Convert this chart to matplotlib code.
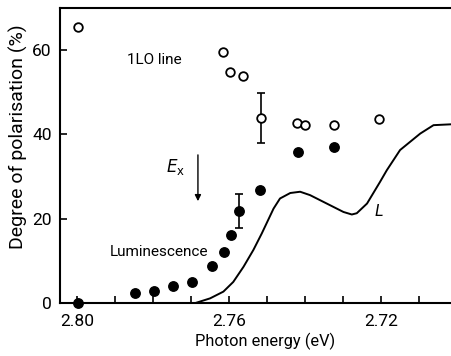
import matplotlib
matplotlib.use("Agg")
import matplotlib.pyplot as plt

plt.rcParams['font.family'] = ['Roboto', 'DejaVu Sans']

# 1LO line (open circles)
lo_x = [2.7997, 2.7616, 2.7597, 2.7563, 2.7516, 2.7421, 2.7400, 2.7324, 2.7205]
lo_y = [65.4, 59.5, 54.7, 53.8, 43.8, 42.7, 42.2, 42.2, 43.6]
lo_err_x = [2.7516]
lo_err_y = [43.8]
lo_err = [[5.9], [6.0]]

# Luminescence (filled circles)
lum_x = [2.7997, 2.7847, 2.7797, 2.7747, 2.7697, 2.7645, 2.7613, 2.7595, 2.7574, 2.7518, 2.7418, 2.7324]
lum_y = [0.0, 2.4, 2.8, 4.0, 5.0, 8.8, 12.1, 16.1, 21.8, 26.8, 35.8, 37.0]
lum_err_x = [2.7574]
lum_err_y = [21.8]
lum_err = [[4.0], [4.0]]

# Curve L
L_x = [2.7685, 2.7650, 2.7615, 2.7589, 2.7562, 2.7536, 2.7514, 2.7483, 2.7466, 2.7439,
       2.7413, 2.7387, 2.7343, 2.7299, 2.7277, 2.7264, 2.7237, 2.7203, 2.7185, 2.7150,
       2.7097, 2.7062, 2.7016]
L_y = [0.1, 1.1, 2.7, 5.0, 8.6, 12.6, 16.5, 22.4, 24.8, 26.1,
       26.4, 25.6, 23.6, 21.6, 21.0, 21.3, 23.6, 28.7, 31.5, 36.3,
       40.2, 42.2, 42.4]

x_ticks = [2.80, 2.76, 2.72]
x_ticklabels = ["2.80", "2.76", "2.72"]
x_minor = [2.79, 2.78, 2.77, 2.75, 2.74, 2.73, 2.71]
y_ticks = [0, 20, 40, 60]

fig = plt.figure(figsize=(4.51, 3.56), dpi=100)
ax = fig.add_axes([60/451, 53/356, 391/451, 295/356])

ax.plot(L_x, L_y, color='black', lw=1.4, zorder=2)
ax.plot(lo_x, lo_y, 'o', mfc='white', mec='black', mew=1.3, ms=6.2, zorder=3)
ax.errorbar(lo_err_x, lo_err_y, yerr=lo_err, fmt='none', ecolor='black', elinewidth=1.2, capsize=3, capthick=1.2, zorder=2)
ax.plot(lum_x, lum_y, 'o', color='black', ms=6.8, zorder=3, clip_on=False)
ax.errorbar(lum_err_x, lum_err_y, yerr=lum_err, fmt='none', ecolor='black', elinewidth=1.2, capsize=3, capthick=1.2, zorder=2)

# E_x arrow
ax.annotate('', xy=(2.7682, 23.5), xytext=(2.7682, 35.8),
            arrowprops=dict(arrowstyle='-|>', color='black', lw=1.0, mutation_scale=9))
ax.text(2.7742, 32.2, r'$E_\mathrm{x}$', fontsize=12, ha='center', va='center')

ax.text(2.7868, 57.6, '1LO line', fontsize=11, ha='left', va='center')
ax.text(2.7913, 12.1, 'Luminescence', fontsize=11, ha='left', va='center')
ax.text(2.7216, 21.6, 'L', fontsize=12, ha='left', va='center', style='italic')

ax.set_xticks(x_ticks)
ax.set_xticklabels(x_ticklabels)
ax.set_xticks(x_minor, minor=True)
ax.set_yticks(y_ticks)
ax.set_xlim(2.8045, 2.7016)
ax.set_ylim(0, 70)
ax.tick_params(direction='in', length=5, width=1.2, labelsize=12.5, pad=6)
ax.tick_params(which='minor', direction='in', length=5, width=1.2)
ax.tick_params(axis='x', pad=8)

for s in ['left', 'bottom', 'top']:
    ax.spines[s].set_linewidth(1.5)
ax.spines['right'].set_visible(False)

ax.set_xlabel('Photon energy (eV)', fontsize=11.8)
ax.xaxis.set_label_coords(0.524, -0.1)
ax.set_ylabel('Degree of polarisation (%)', fontsize=14)
ax.yaxis.set_label_coords(-0.083, 0.565)

fig.savefig('out.png', dpi=100)
